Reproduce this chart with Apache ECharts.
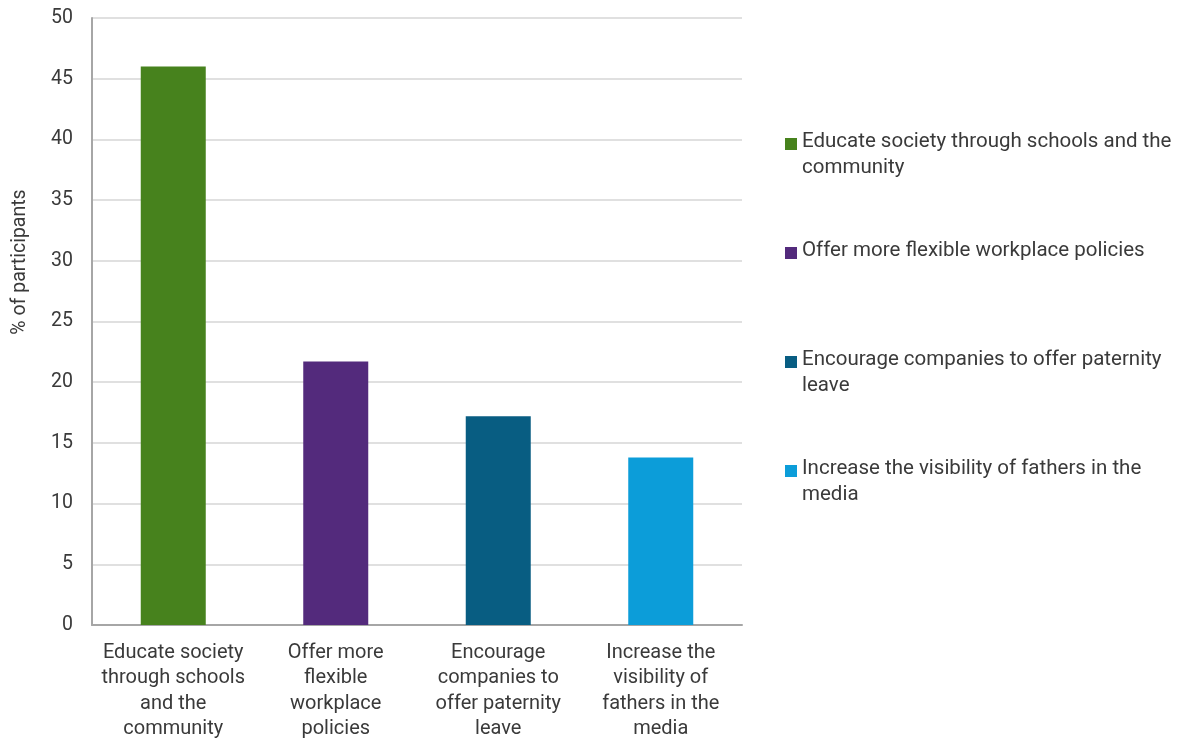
<!DOCTYPE html>
<html>
<head>
<meta charset="utf-8">
<script src="https://cdn.jsdelivr.net/npm/echarts@6/dist/echarts.min.js"></script>
<style>
  html, body { margin: 0; padding: 0; background: #fff; }
  #chart { width: 1187px; height: 742px; }
</style>
</head>
<body>
<div id="chart"></div>
<script>
// Survey responses: what would help fathers take a bigger role
const categories = [
  'Educate society through schools and the community',
  'Offer more flexible workplace policies',
  'Encourage companies to offer paternity leave',
  'Increase the visibility of fathers in the media'
];
// Wrapped versions used under the bars
const axisLabels = [
  'Educate society\nthrough schools\nand the\ncommunity',
  'Offer more\nflexible\nworkplace\npolicies',
  'Encourage\ncompanies to\noffer paternity\nleave',
  'Increase the\nvisibility of\nfathers in the\nmedia'
];
// Wrapped versions used in the legend
const legendLabels = [
  'Educate society through schools and the\ncommunity',
  'Offer more flexible workplace policies',
  'Encourage companies to offer paternity\nleave',
  'Increase the visibility of fathers in the\nmedia'
];
const percentages = [46.0, 21.7, 17.2, 13.8];
const colors = ['#47821d', '#532a7c', '#085d82', '#0c9dd9'];

const FONT = 'Roboto, "Open Sans", sans-serif';
const TEXT = '#3a3a3a';

const chart = echarts.init(document.getElementById('chart'), null, { renderer: 'canvas' });

// Legend entries drawn as a column to the right of the plot
const legendTop = [141, 250, 359, 468];
const legendGraphics = categories.map((c, i) => ({
  type: 'group',
  left: 785,
  top: legendTop[i] - 12,
  children: [
    { type: 'rect', shape: { x: 0, y: 1, width: 12, height: 12 }, style: { fill: colors[i] } },
    {
      type: 'text', x: 17, y: -8,
      style: { text: legendLabels[i], fill: TEXT, font: '20.5px ' + FONT, lineHeight: 26 }
    }
  ]
}));

chart.setOption({
  animation: false,
  grid: { left: 92, right: 445, top: 18, bottom: 115, containLabel: false },
  xAxis: {
    type: 'category',
    data: axisLabels,
    axisLine: { lineStyle: { color: '#a6a6a6', width: 2 } },
    axisTick: { show: false },
    axisLabel: { color: TEXT, fontFamily: FONT, fontSize: 20, lineHeight: 25.5, margin: 15, interval: 0 }
  },
  yAxis: {
    type: 'value',
    min: 0, max: 50, interval: 5,
    axisLine: { show: true, lineStyle: { color: '#a6a6a6', width: 2 } },
    axisTick: { show: false },
    axisLabel: { color: TEXT, fontFamily: FONT, fontSize: 19.5, margin: 19 },
    splitLine: { lineStyle: { color: '#d6d6d6', width: 1.5 } }
  },
  graphic: [
    {
      type: 'text',
      x: 20, y: 262,
      rotation: Math.PI / 2,
      style: {
        text: '% of participants', fill: TEXT, font: '19.5px ' + FONT,
        textAlign: 'center', textVerticalAlign: 'middle'
      }
    }
  ].concat(legendGraphics),
  series: [{
    type: 'bar',
    barWidth: '40%',
    data: percentages.map((v, i) => ({ value: v, itemStyle: { color: colors[i] } }))
  }]
});
</script>
</body>
</html>
